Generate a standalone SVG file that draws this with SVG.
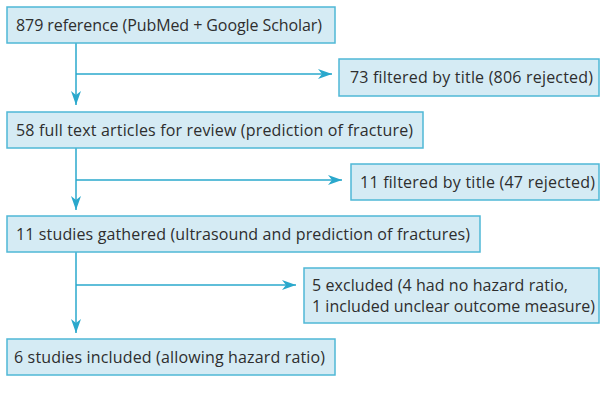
<svg xmlns="http://www.w3.org/2000/svg" width="600" height="398" viewBox="0 0 600 398">
  <style>
    .box { fill: #d5ebf4; stroke: #4fb8d6; stroke-width: 1.5; }
    .label { font-family: "Open Sans", "Liberation Sans", sans-serif; font-size: 16px; fill: #2e2e2e; }
    .link { fill: none; stroke: #2aa8cc; stroke-width: 1.5; }
  </style>
  <defs>
    <marker id="arrow" viewBox="0 0 14 10" refX="14" refY="5" markerWidth="14" markerHeight="10" markerUnits="userSpaceOnUse" orient="auto">
      <path d="M0,0 L14,5 L0,10 L4,5 Z" fill="#2aa8cc"/>
    </marker>
  </defs>
  <rect width="600" height="398" fill="#ffffff"/>

  <g id="connectors">
    <path class="link" d="M76,43 V105" marker-end="url(#arrow)"/>
    <path class="link" d="M76,74 H332" marker-end="url(#arrow)"/>
    <path class="link" d="M76,148 V210" marker-end="url(#arrow)"/>
    <path class="link" d="M76,180 H342" marker-end="url(#arrow)"/>
    <path class="link" d="M76,252 V333" marker-end="url(#arrow)"/>
    <path class="link" d="M76,285 H296" marker-end="url(#arrow)"/>
  </g>

  <g id="n-reference">
    <rect class="box" x="7" y="7" width="328" height="36"/>
    <text class="label" x="16" y="31" textLength="306" lengthAdjust="spacing">879 reference (PubMed + Google Scholar)</text>
  </g>
  <g id="n-filtered1">
    <rect class="box" x="339" y="59" width="260" height="37"/>
    <text class="label" x="350" y="83" textLength="243" lengthAdjust="spacing">73 filtered by title (806 rejected)</text>
  </g>
  <g id="n-fulltext">
    <rect class="box" x="7" y="112" width="416" height="36"/>
    <text class="label" x="16" y="136" textLength="397" lengthAdjust="spacing">58 full text articles for review (prediction of fracture)</text>
  </g>
  <g id="n-filtered2">
    <rect class="box" x="351" y="164" width="248" height="36"/>
    <text class="label" x="360" y="188" textLength="235" lengthAdjust="spacing">11 filtered by title (47 rejected)</text>
  </g>
  <g id="n-gathered">
    <rect class="box" x="7" y="216" width="473" height="36"/>
    <text class="label" x="16" y="240" textLength="454" lengthAdjust="spacing">11 studies gathered (ultrasound and prediction of fractures)</text>
  </g>
  <g id="n-excluded">
    <rect class="box" x="304" y="268" width="295" height="55"/>
    <text class="label" x="312" y="291" textLength="256" lengthAdjust="spacing">5 excluded (4 had no hazard ratio,</text>
    <text class="label" x="312" y="312" textLength="283" lengthAdjust="spacing">1 included unclear outcome measure)</text>
  </g>
  <g id="n-included">
    <rect class="box" x="7" y="339" width="328" height="36"/>
    <text class="label" x="14" y="363" textLength="311" lengthAdjust="spacing">6 studies included (allowing hazard ratio)</text>
  </g>
</svg>
